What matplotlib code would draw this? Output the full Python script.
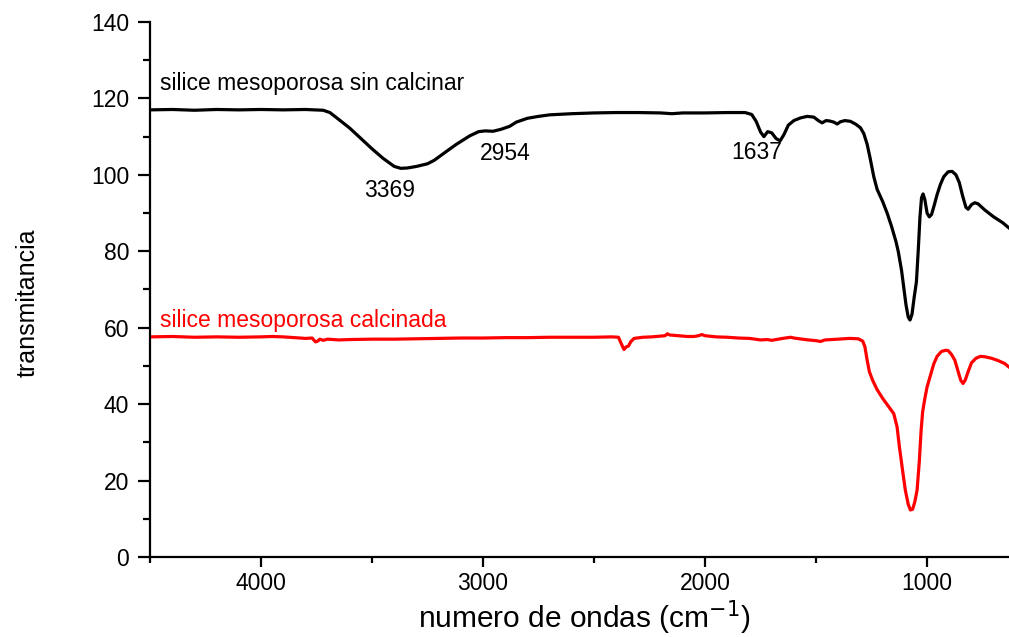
import matplotlib
matplotlib.use("Agg")
import matplotlib.pyplot as plt
from matplotlib.ticker import MultipleLocator

plt.rcParams['font.family'] = ['Liberation Sans', 'DejaVu Sans']

# ===============================
# FTIR spectra
# ===============================
wn_sin = [4500, 4400, 4300, 4200, 4100, 4000, 3900, 3800, 3720, 3690, 3650, 3600,
          3550, 3500, 3450, 3400, 3370, 3340, 3300, 3250, 3220, 3180, 3120, 3060,
          3020, 2990, 2955, 2920, 2880, 2850, 2800, 2750, 2700, 2600, 2500, 2400,
          2300, 2200, 2150, 2100, 2000, 1900, 1820, 1790, 1770, 1750, 1735, 1718,
          1700, 1680, 1662, 1645, 1625, 1600, 1570, 1540, 1510, 1490, 1473, 1455,
          1440, 1420, 1405, 1390, 1370, 1345, 1320, 1300, 1285, 1270, 1257, 1240,
          1225, 1200, 1180, 1160, 1140, 1130, 1115, 1105, 1095, 1085, 1077, 1068,
          1058, 1048, 1040, 1032, 1025, 1018, 1010, 1000, 990, 980, 968, 955, 940,
          925, 905, 887, 870, 855, 840, 825, 815, 800, 785, 770, 740, 700, 660, 631]
t_sin = [117.0, 117.1, 116.9, 117.1, 117.0, 117.1, 117.0, 117.1, 116.9, 116.3, 114.5, 112.2,
         109.5, 106.8, 104.3, 102.2, 101.7, 101.8, 102.2, 102.9, 103.8, 105.5, 108.0, 110.2,
         111.3, 111.5, 111.4, 111.9, 112.7, 113.8, 114.8, 115.3, 115.7, 116.0, 116.2, 116.3,
         116.3, 116.2, 116.0, 116.2, 116.2, 116.3, 116.3, 115.8, 114.0, 111.2, 110.0, 111.3,
         111.0, 109.5, 108.9, 110.5, 113.0, 114.2, 114.9, 115.3, 115.1, 114.2, 113.6, 114.2,
         114.1, 113.8, 113.3, 113.9, 114.2, 114.0, 113.2, 112.3, 110.8, 108.0, 104.5, 99.5,
         96.2, 93.0, 90.0, 86.5, 82.5, 80.0, 75.0, 70.5, 66.0, 62.8, 62.0, 63.5,
         68.0, 72.0, 80.0, 89.0, 94.0, 95.0, 93.5, 90.0, 89.0, 89.6, 92.0, 94.8, 97.5,
         99.5, 100.8, 100.9, 100.0, 98.0, 94.5, 91.5, 91.0, 92.2, 92.7, 92.4, 90.8, 89.0, 87.5, 86.1]

wn_cal = [4500, 4400, 4300, 4200, 4100, 4000, 3950, 3900, 3850, 3800, 3770, 3755,
          3745, 3735, 3720, 3700, 3650, 3600, 3500, 3400, 3300, 3200, 3100, 3000,
          2900, 2800, 2700, 2600, 2500, 2420, 2390, 2375, 2365, 2355, 2345, 2335,
          2320, 2280, 2240, 2200, 2180, 2170, 2160, 2120, 2080, 2050, 2030, 2015,
          2000, 1950, 1900, 1850, 1800, 1750, 1720, 1700, 1650, 1615, 1600, 1550,
          1500, 1480, 1460, 1400, 1350, 1310, 1290, 1280, 1270, 1260, 1245, 1225,
          1200, 1175, 1150, 1135, 1125, 1110, 1098, 1085, 1075, 1065, 1055, 1045,
          1035, 1027, 1020, 1010, 1000, 985, 970, 955, 935, 915, 905, 890, 875,
          860, 848, 838, 828, 815, 800, 780, 760, 740, 710, 680, 650, 631]
t_cal = [57.6, 57.7, 57.5, 57.6, 57.5, 57.6, 57.7, 57.6, 57.4, 57.2, 57.3, 56.3,
         56.5, 57.0, 56.7, 57.0, 56.8, 56.9, 57.0, 57.0, 57.1, 57.2, 57.3, 57.3,
         57.4, 57.4, 57.5, 57.5, 57.5, 57.6, 57.5, 55.5, 54.3, 55.0, 55.2, 56.3,
         57.2, 57.5, 57.6, 57.8, 57.9, 58.4, 58.1, 57.9, 57.7, 57.7, 57.9, 58.2,
         57.9, 57.6, 57.5, 57.3, 57.2, 56.8, 56.9, 56.7, 57.2, 57.5, 57.3, 56.9,
         56.6, 56.4, 56.8, 57.0, 57.2, 57.1, 56.5, 55.0, 51.5, 48.5, 46.2, 43.8,
         41.5, 39.5, 37.5, 34.0, 29.0, 22.5, 17.5, 13.8, 12.3, 12.5, 14.5, 17.5,
         25.0, 33.0, 38.0, 41.5, 44.5, 47.5, 50.5, 52.5, 53.8, 54.1, 54.0, 53.0, 51.5,
         48.5, 46.2, 45.4, 46.3, 48.5, 50.8, 52.0, 52.5, 52.4, 52.0, 51.4, 50.6, 49.7]

# peak labels
peak_labels = ["3369", "2954", "1637"]
peak_x = [3420, 2900, 1766]
peak_y = [96.0, 105.5, 105.8]

FS = 16.5

# ===============================
# Plot
# ===============================
fig = plt.figure(figsize=(10.09, 6.37), dpi=100)
ax = fig.add_axes([0.1487, 0.1256, 0.8513, 0.8399])

ax.plot(wn_sin, t_sin, color='black', linewidth=2.3)
ax.plot(wn_cal, t_cal, color='red', linewidth=2.3)

ax.text(4455, 123.8, "silice mesoporosa sin calcinar", fontsize=FS,
        color='black', va='center', ha='left')
ax.text(4455, 62.0, "silice mesoporosa calcinada", fontsize=FS,
        color='red', va='center', ha='left')
for lbl, x, y in zip(peak_labels, peak_x, peak_y):
    ax.text(x, y, lbl, fontsize=FS, ha='center', va='center')

ax.set_xlim(4500, 631)
ax.set_ylim(0, 140)
ax.xaxis.set_major_locator(MultipleLocator(1000))
ax.xaxis.set_minor_locator(MultipleLocator(500))
ax.yaxis.set_major_locator(MultipleLocator(20))
ax.yaxis.set_minor_locator(MultipleLocator(10))

ax.spines['top'].set_visible(False)
ax.spines['right'].set_visible(False)
ax.spines['left'].set_linewidth(1.6)
ax.spines['bottom'].set_linewidth(1.6)
ax.tick_params(axis='y', which='major', direction='out', length=9, width=1.6,
               labelsize=FS, pad=6)
ax.tick_params(axis='y', which='minor', direction='out', length=5, width=1.6)
ax.tick_params(axis='x', which='major', direction='out', length=7, width=1.6,
               labelsize=FS, pad=4)
ax.tick_params(axis='x', which='minor', direction='out', length=4, width=1.6)

ax.set_xlabel("numero de ondas (cm$^{-1}$)", fontsize=21.5, va='center')
ax.xaxis.set_label_coords(0.506, -0.114)
ax.set_ylabel("transmitancia", fontsize=18)
ax.yaxis.set_label_coords(-0.128, 0.475)

fig.savefig("out.png", dpi=100)
